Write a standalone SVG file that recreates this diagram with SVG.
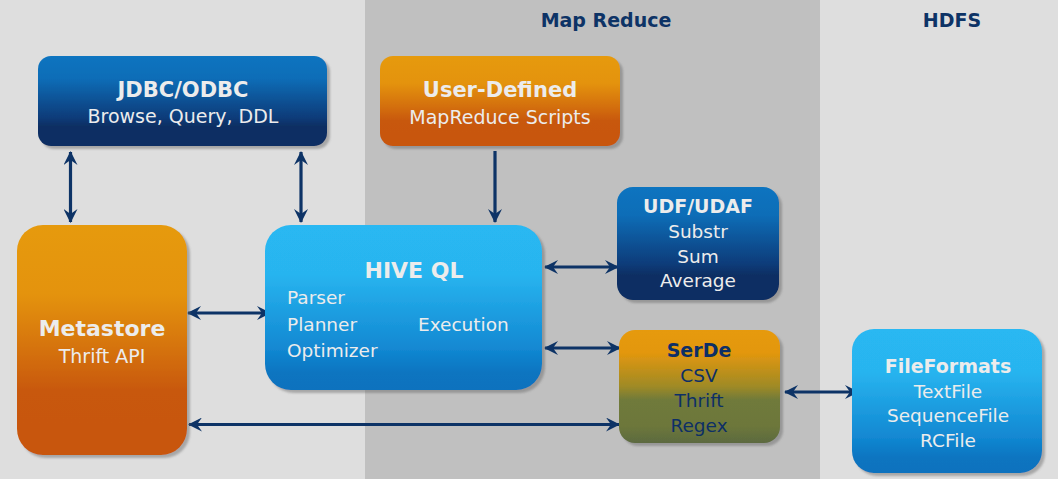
<svg xmlns="http://www.w3.org/2000/svg" width="1058" height="479" viewBox="0 0 1058 479">
<defs>
<style>
.t{font-family:"DejaVu Sans",Verdana,sans-serif;fill:#ececec;text-anchor:middle}
.s{text-anchor:start}
.b{font-weight:bold}
.hd{font-family:"DejaVu Sans",Verdana,sans-serif;font-weight:bold;font-size:19px;fill:#0d3366;text-anchor:middle}
.dk{fill:#0d2f66}
.c{stroke:#0d3366;stroke-width:3.2;fill:none}
</style>
<linearGradient id="gDark" x1="0" y1="0" x2="0" y2="1">
<stop offset="0" stop-color="#0a74c0"/><stop offset="0.25" stop-color="#0a6db7"/><stop offset="0.68" stop-color="#0b3c7a"/><stop offset="0.78" stop-color="#0a2f63"/><stop offset="1" stop-color="#0a2f63"/>
</linearGradient>
<linearGradient id="gOr" x1="0" y1="0" x2="0" y2="1">
<stop offset="0" stop-color="#e69a0c"/><stop offset="0.3" stop-color="#e4930d"/><stop offset="0.6" stop-color="#d16a0b"/><stop offset="0.72" stop-color="#c8580a"/><stop offset="1" stop-color="#c8560a"/>
</linearGradient>
<linearGradient id="gLt" x1="0" y1="0" x2="0" y2="1">
<stop offset="0" stop-color="#29b8f2"/><stop offset="0.3" stop-color="#28b4ef"/><stop offset="0.75" stop-color="#1288d2"/><stop offset="0.9" stop-color="#0a74c0"/><stop offset="1" stop-color="#0a72be"/>
</linearGradient>
<linearGradient id="gSer" x1="0" y1="0" x2="0" y2="1">
<stop offset="0" stop-color="#e69a0c"/><stop offset="0.2" stop-color="#e3970e"/><stop offset="0.5" stop-color="#9f8a26"/><stop offset="0.62" stop-color="#6f7a3a"/><stop offset="0.85" stop-color="#6d773a"/><stop offset="1" stop-color="#5c6a40"/>
</linearGradient>
<filter id="sh" x="-10%" y="-10%" width="125%" height="125%">
<feDropShadow dx="3" dy="3" stdDeviation="1" flood-color="#666" flood-opacity="0.45"/>
</filter>
<marker id="ah" viewBox="0 0 14 14" refX="13" refY="7" markerWidth="14" markerHeight="14" markerUnits="userSpaceOnUse" orient="auto-start-reverse">
<path d="M0,0 L14,7 L0,14 L5,7 z" fill="#0d3366"/>
</marker>
</defs>

<g id="background">
<rect x="0" y="0" width="1058" height="479" fill="#dedede"/>
<rect x="365" y="0" width="455" height="479" fill="#c0c0c0"/>
<text class="hd" x="606" y="27">Map Reduce</text>
<text class="hd" x="952" y="27">HDFS</text>
</g>

<g id="connectors">
<line class="c" x1="70.5" y1="152" x2="70.5" y2="222" marker-start="url(#ah)" marker-end="url(#ah)"/>
<line class="c" x1="301" y1="152" x2="301" y2="222" marker-start="url(#ah)" marker-end="url(#ah)"/>
<line class="c" x1="495" y1="151" x2="495" y2="222" marker-end="url(#ah)"/>
<line class="c" x1="188" y1="313" x2="270" y2="313" marker-start="url(#ah)" marker-end="url(#ah)"/>
<line class="c" x1="189" y1="424.5" x2="619" y2="424.5" marker-start="url(#ah)" marker-end="url(#ah)"/>
<line class="c" x1="545" y1="267" x2="618" y2="267" marker-start="url(#ah)" marker-end="url(#ah)"/>
<line class="c" x1="545" y1="348" x2="620" y2="348" marker-start="url(#ah)" marker-end="url(#ah)"/>
<line class="c" x1="785" y1="392" x2="858" y2="392" marker-start="url(#ah)" marker-end="url(#ah)"/>
</g>

<g id="jdbc">
<rect x="38" y="56" width="289" height="90" rx="13" fill="url(#gDark)" filter="url(#sh)"/>
<text class="t b" x="183" y="97" font-size="21">JDBC/ODBC</text>
<text class="t" x="183" y="123" font-size="19">Browse, Query, DDL</text>
</g>

<g id="userdefined">
<rect x="380" y="56" width="240" height="90" rx="13" fill="url(#gOr)" filter="url(#sh)"/>
<text class="t b" x="500" y="97" font-size="21">User-Defined</text>
<text class="t" x="500" y="124" font-size="19">MapReduce Scripts</text>
</g>

<g id="metastore">
<rect x="17" y="225" width="170" height="230" rx="26" fill="url(#gOr)" filter="url(#sh)"/>
<text class="t b" x="102" y="336" font-size="22">Metastore</text>
<text class="t" x="102" y="363" font-size="19">Thrift API</text>
</g>

<g id="hiveql">
<rect x="265" y="225" width="277" height="165" rx="26" fill="url(#gLt)" filter="url(#sh)"/>
<text class="t b" x="414" y="278" font-size="22">HIVE QL</text>
<text class="t s" x="287" y="304" font-size="18.5">Parser</text>
<text class="t s" x="287" y="331" font-size="18.5">Planner</text>
<text class="t s" x="287" y="357" font-size="18.5">Optimizer</text>
<text class="t s" x="418" y="331" font-size="18.5">Execution</text>
</g>

<g id="udf">
<rect x="617" y="187" width="162" height="113" rx="16" fill="url(#gDark)" filter="url(#sh)"/>
<text class="t b" x="698" y="213" font-size="19">UDF/UDAF</text>
<text class="t" x="698" y="238" font-size="18.5">Substr</text>
<text class="t" x="698" y="263" font-size="18.5">Sum</text>
<text class="t" x="698" y="287" font-size="18.5">Average</text>
</g>

<g id="serde">
<rect x="619" y="330" width="161" height="113" rx="16" fill="url(#gSer)" filter="url(#sh)"/>
<text class="t b dk" x="699" y="357" font-size="19">SerDe</text>
<text class="t dk" x="699" y="382" font-size="18.5">CSV</text>
<text class="t dk" x="699" y="407" font-size="18.5">Thrift</text>
<text class="t dk" x="699" y="432" font-size="18.5">Regex</text>
</g>

<g id="fileformats">
<rect x="852" y="329" width="190" height="144" rx="22" fill="url(#gLt)" filter="url(#sh)"/>
<text class="t b" x="948" y="373" font-size="19">FileFormats</text>
<text class="t" x="948" y="398" font-size="18.5">TextFile</text>
<text class="t" x="948" y="422" font-size="18.5">SequenceFile</text>
<text class="t" x="948" y="447" font-size="18.5">RCFile</text>
</g>
</svg>
